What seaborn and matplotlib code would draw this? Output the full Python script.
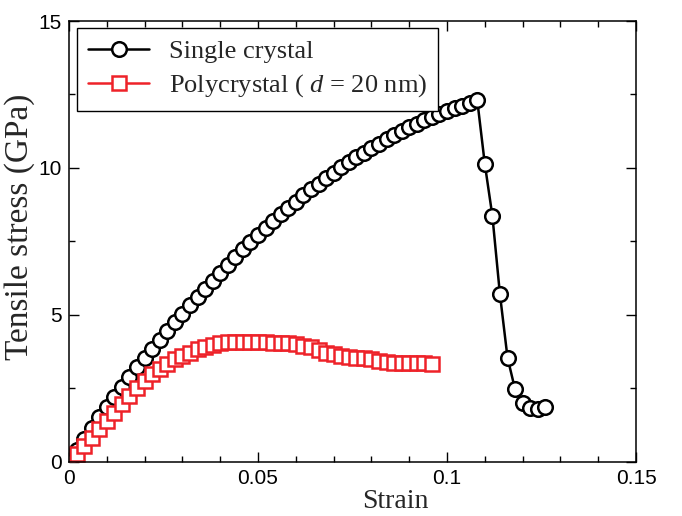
import matplotlib
matplotlib.use('Agg')
import pandas as pd
import matplotlib.pyplot as plt
from matplotlib.ticker import MultipleLocator, FuncFormatter
import seaborn as sns

# single crystal: strain / stress (GPa)
strain_single = [0.000, 0.002, 0.004, 0.006, 0.008, 0.010, 0.012, 0.014, 0.016, 0.018,
                 0.020, 0.022, 0.024, 0.026, 0.028, 0.030, 0.032, 0.034, 0.036, 0.038,
                 0.040, 0.042, 0.044, 0.046, 0.048, 0.050, 0.052, 0.054, 0.056, 0.058,
                 0.060, 0.062, 0.064, 0.066, 0.068, 0.070, 0.072, 0.074, 0.076, 0.078,
                 0.080, 0.082, 0.084, 0.086, 0.088, 0.090, 0.092, 0.094, 0.096, 0.098,
                 0.100, 0.102, 0.104, 0.106, 0.108, 0.110, 0.112, 0.114, 0.116, 0.118,
                 0.120, 0.122, 0.124, 0.126]
stress_single = [0.00, 0.40, 0.78, 1.16, 1.52, 1.88, 2.22, 2.56, 2.89, 3.22,
                 3.54, 3.85, 4.16, 4.46, 4.76, 5.05, 5.34, 5.62, 5.90, 6.17,
                 6.44, 6.71, 6.97, 7.23, 7.48, 7.73, 7.97, 8.20, 8.43, 8.65,
                 8.86, 9.07, 9.27, 9.47, 9.66, 9.84, 10.02, 10.19, 10.36, 10.52,
                 10.68, 10.83, 10.98, 11.12, 11.25, 11.38, 11.50, 11.62, 11.73, 11.84,
                 11.94, 12.03, 12.12, 12.21, 12.30, 10.13, 8.37, 5.70, 3.55, 2.47,
                 2.02, 1.85, 1.80, 1.87]

# polycrystal d = 20 nm
strain_poly = [0.002, 0.004, 0.006, 0.008, 0.010, 0.012, 0.014, 0.016, 0.018, 0.020,
               0.022, 0.024, 0.026, 0.028, 0.030, 0.032, 0.034, 0.036, 0.038, 0.040,
               0.042, 0.044, 0.046, 0.048, 0.050, 0.052, 0.054, 0.056, 0.058, 0.060,
               0.062, 0.064, 0.066, 0.068, 0.070, 0.072, 0.074, 0.076, 0.078, 0.080,
               0.082, 0.084, 0.086, 0.088, 0.090, 0.092, 0.094, 0.096]
stress_poly = [0.26, 0.54, 0.83, 1.11, 1.39, 1.68, 1.96, 2.24, 2.53, 2.76,
               2.98, 3.15, 3.32, 3.49, 3.61, 3.72, 3.83, 3.91, 3.98, 4.05,
               4.08, 4.09, 4.08, 4.07, 4.07, 4.07, 4.06, 4.06, 4.03, 4.00,
               3.95, 3.90, 3.82, 3.72, 3.66, 3.61, 3.57, 3.55, 3.52, 3.49,
               3.45, 3.41, 3.38, 3.35, 3.35, 3.37, 3.37, 3.32]

labels = ['Single crystal', 'Polycrystal ( $d$ = 20 nm)']
red = '#ee2229'

sns.set_style('ticks')
plt.rcParams['font.family'] = ['Liberation Sans', 'DejaVu Sans']
plt.rcParams['mathtext.fontset'] = 'custom'
plt.rcParams['mathtext.rm'] = 'Liberation Serif'
plt.rcParams['mathtext.it'] = 'Liberation Serif:italic'

df_single = pd.DataFrame({'Strain': strain_single, 'Stress': stress_single})
df_poly = pd.DataFrame({'Strain': strain_poly, 'Stress': stress_poly})

fig, ax = plt.subplots(figsize=(6.82, 5.16), dpi=100)
fig.subplots_adjust(left=0.1012, right=0.9326, bottom=0.1047, top=0.9593)

sns.lineplot(data=df_single, x='Strain', y='Stress', ax=ax, sort=False, errorbar=None,
             color='black', lw=1.8, marker='o', markersize=10.5,
             markerfacecolor='white', markeredgecolor='black', markeredgewidth=1.8,
             label=labels[0])
sns.lineplot(data=df_poly, x='Strain', y='Stress', ax=ax, sort=False, errorbar=None,
             color=red, lw=1.8, marker='s', markersize=10,
             markerfacecolor='white', markeredgecolor=red, markeredgewidth=1.8,
             label=labels[1])

ax.set_xlim(0, 0.15)
ax.set_ylim(0, 15)
ax.xaxis.set_major_locator(MultipleLocator(0.05))
ax.xaxis.set_minor_locator(MultipleLocator(0.01))
ax.yaxis.set_major_locator(MultipleLocator(5))
ax.yaxis.set_minor_locator(MultipleLocator(2.5))
ax.xaxis.set_major_formatter(FuncFormatter(lambda v, p: '%g' % round(v, 3)))

ax.tick_params(which='both', direction='in', top=True, right=True, width=1.0, colors='black')
ax.tick_params(which='major', length=7, labelsize=15, pad=5)
ax.tick_params(which='minor', length=4.5)
for sp in ax.spines.values():
    sp.set_linewidth(1.1)
    sp.set_color('black')

ax.set_xlabel('Strain', fontfamily='Liberation Serif', fontsize=20)
ax.set_ylabel('Tensile stress (GPa)', fontfamily='Liberation Serif', fontsize=24)
ax.xaxis.set_label_coords(0.575, -0.062)
ax.yaxis.set_label_coords(-0.06, 0.533)

leg = ax.legend(loc='upper left', bbox_to_anchor=(0.0141, 0.984), borderaxespad=0,
                frameon=True, fancybox=False, edgecolor='black', framealpha=1,
                prop={'family': 'Liberation Serif', 'size': 19},
                handlelength=2.3, handletextpad=0.75, borderpad=0.43, labelspacing=0.36)
leg.get_frame().set_linewidth(1.0)

plt.savefig('out.png', dpi=100)
plt.close(fig)
